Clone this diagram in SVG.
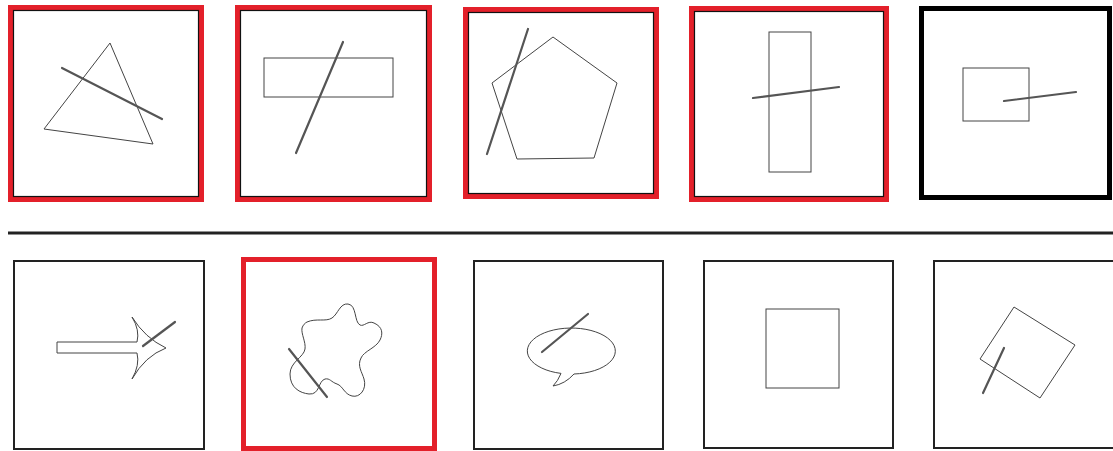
<svg xmlns="http://www.w3.org/2000/svg" width="1113" height="451" viewBox="0 0 1113 451">
<style>
.red{fill:none;stroke:#e3202a;stroke-width:5}
.inner{fill:none;stroke:#111;stroke-width:1.2}
.blk{fill:none;stroke:#222;stroke-width:2}
.thick{fill:none;stroke:#000;stroke-width:5}
.shape{fill:none;stroke:#444;stroke-width:1}
.stroke{fill:none;stroke:#555;stroke-width:2.2;stroke-linecap:round}
</style>
<rect width="1113" height="451" fill="#fff"/>
<g id="p1">
<rect class="red" x="10.5" y="7.5" width="191" height="192"/>
<rect class="inner" x="13.5" y="10.5" width="185" height="186"/>
<polygon class="shape" points="110,43 44,129 153,144"/>
<line class="stroke" x1="62" y1="68" x2="162" y2="119"/>
</g>
<g id="p2">
<rect class="red" x="237.5" y="7.5" width="192" height="192"/>
<rect class="inner" x="240.5" y="10.5" width="186" height="186"/>
<rect class="shape" x="264" y="58" width="129" height="39"/>
<line class="stroke" x1="343" y1="42" x2="296" y2="153"/>
</g>
<g id="p3">
<rect class="red" x="465.5" y="9.5" width="191" height="187"/>
<rect class="inner" x="468.5" y="12.5" width="185" height="181"/>
<polygon class="shape" points="553,37 617,83 594,158 517,159 492,83"/>
<line class="stroke" x1="528" y1="29" x2="487" y2="154"/>
</g>
<g id="p4">
<rect class="red" x="691.5" y="8.5" width="195" height="191"/>
<rect class="inner" x="694.5" y="11.5" width="189" height="185"/>
<rect class="shape" x="769" y="32" width="42" height="140"/>
<line class="stroke" x1="753" y1="98" x2="839" y2="87"/>
</g>
<g id="p5">
<rect class="thick" x="921.5" y="8.5" width="188" height="189"/>
<rect class="shape" x="963" y="68" width="66" height="53"/>
<line class="stroke" x1="1004" y1="101" x2="1076" y2="92"/>
</g>
<g id="separator">
<line x1="8" y1="233" x2="1113" y2="233" stroke="#222" stroke-width="3"/>
</g>
<g id="p6">
<rect class="blk" x="14" y="261" width="190" height="188"/>
<path class="shape" d="M57,342 L137,342 Q140,330 132,317 Q145,338 166,348 Q145,356 132,379 Q140,365 137,353 L57,353 Z"/>
<line class="stroke" x1="175" y1="322" x2="143" y2="346"/>
</g>
<g id="p7">
<rect class="red" x="243.5" y="259.5" width="191" height="189"/>
<path class="shape" d="M307,322 C316,318 326,322 332,318 C338,314 340,303 348,304 C357,305 354,322 360,325 C364,327 368,320 374,323 C383,327 383,334 380,340 C376,348 364,351 361,358 C357,366 362,372 364,379 C367,389 360,398 352,396 C344,394 343,386 337,384 C331,382 330,378 325,379 C318,381 320,395 309,394 C300,393 290,388 290,374 C290,362 304,357 305,349 C306,342 301,334 302,328 C303,325 305,323 307,322 Z"/>
<line class="stroke" x1="289" y1="349" x2="327" y2="397"/>
</g>
<g id="p8">
<rect class="blk" x="474" y="261" width="189" height="188"/>
<path class="shape" d="M561,373.4 Q558,381 553,386 Q565,384 574,374 A44,23 0 1 0 561,373.4 Z"/>
<line class="stroke" x1="588" y1="314" x2="542" y2="352"/>
</g>
<g id="p9">
<rect class="blk" x="704" y="261" width="189" height="187"/>
<rect class="shape" x="766" y="309" width="73" height="79"/>
</g>
<g id="p10">
<rect class="blk" x="934" y="261" width="190" height="187"/>
<polygon class="shape" points="1014,307 1075,345 1040,398 980,359"/>
<line class="stroke" x1="1004" y1="348" x2="983" y2="393"/>
</g>
</svg>
